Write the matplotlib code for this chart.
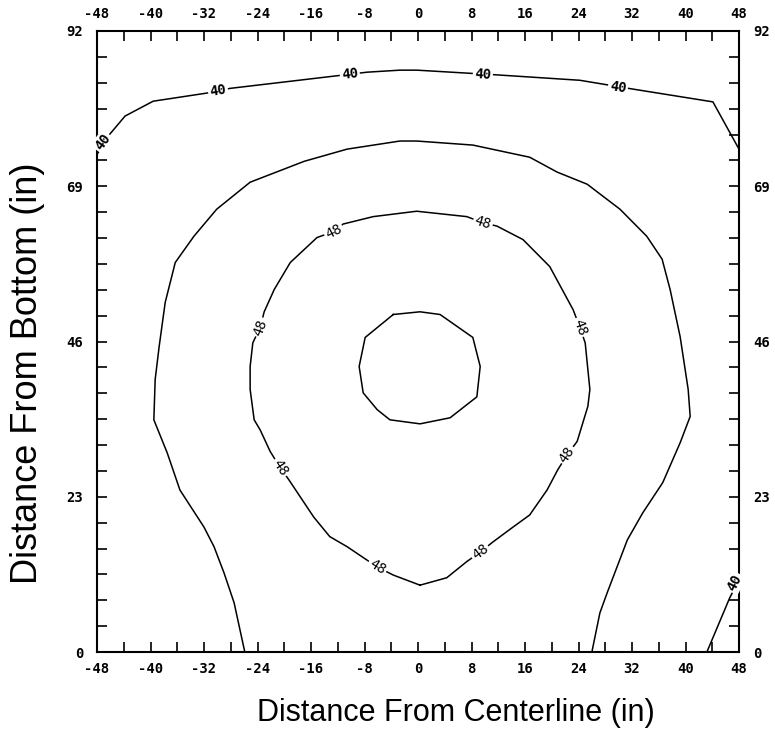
import numpy as np
import matplotlib.pyplot as plt
from matplotlib.ticker import MultipleLocator, FuncFormatter

# ── Contour traces (x = distance from centerline, y = distance from bottom, in) ──
c40_top_x = [-48.0, -46.1, -43.8, -39.6, -31.6, -28.1, -12.7, -7.6, -2.7, -0.2,
             11.8, 24.2, 32.1, 44.1, 48.0]
c40_top_y = [73.7, 76.7, 79.4, 81.6, 82.8, 83.5, 85.3, 85.9, 86.2, 86.2,
             85.5, 84.7, 83.4, 81.5, 74.5]

c44_x = [-25.9, -27.5, -29.0, -30.5, -32.0, -35.6, -37.5, -39.5, -39.3, -38.7,
         -37.8, -36.3, -33.5, -30.1, -25.1, -17.0, -10.6, -2.7, -0.2, 8.2,
         16.7, 20.8, 25.3, 30.2, 34.2, 36.5, 37.7, 39.2, 40.4, 40.7,
         39.2, 36.6, 33.6, 31.3, 28.3, 27.2, 26.0]
c44_y = [0.0, 7.3, 11.7, 15.6, 18.5, 24.0, 29.5, 34.4, 40.4, 45.3,
         51.8, 57.7, 61.6, 65.6, 69.6, 72.7, 74.5, 75.7, 75.7, 75.1,
         73.3, 71.1, 69.3, 65.6, 61.6, 58.2, 53.7, 46.7, 38.9, 34.9,
         31.0, 25.1, 20.6, 16.6, 8.8, 5.8, 0.0]

c48_x = [0.3, -3.7, -6.1, -10.6, -13.2, -15.6, -19.3, -20.6, -22.1, -23.6,
         -24.5, -25.1, -25.1, -24.7, -23.6, -23.0, -21.5, -19.1, -15.1, -12.6,
         -11.2, -6.7, -0.2, 7.3, 9.7, 11.8, 15.7, 19.7, 23.2, 24.2,
         25.0, 25.7, 25.4, 23.8, 22.3, 20.9, 19.3, 16.7, 14.2, 11.2,
         9.3, 7.3, 4.3, 0.3]
c48_y = [9.9, 11.4, 12.6, 15.6, 17.1, 20.0, 25.5, 27.3, 29.7, 32.9,
         34.4, 38.9, 42.3, 45.8, 48.1, 50.4, 53.7, 57.7, 61.4, 62.3,
         63.4, 64.5, 65.3, 64.5, 63.6, 63.1, 61.1, 57.1, 50.7, 48.1,
         45.8, 38.9, 36.4, 31.2, 29.2, 27.0, 24.0, 20.3, 18.5, 16.3,
         14.8, 13.4, 11.0, 9.9]

c52_x = [-3.7, 0.3, 3.3, 8.2, 9.3, 8.8, 4.8, 0.3, -4.2, -6.1, -8.2, -8.8, -7.9, -3.7]
c52_y = [50.0, 50.4, 50.0, 46.6, 42.3, 37.8, 34.7, 33.8, 34.4, 35.9, 38.4, 42.3, 46.6, 50.0]

c40_corner_x = [43.2, 46.6, 48.0]
c40_corner_y = [0.0, 8.0, 10.7]

# label anchor points on each traced contour
lab40_x = [-47.1, -29.9, -10.2, 9.7, 29.9]
lab40_y = [75.5, 83.1, 85.6, 85.6, 83.7]
lab48_x = [-12.6, 9.7, -23.6, 24.2, -20.6, 22.3, -6.1, 9.3]
lab48_y = [62.3, 63.6, 48.1, 48.1, 27.3, 29.2, 12.6, 14.8]
lab40c_x = [47.3]
lab40c_y = [10.3]

plt.rcParams['font.family'] = ['DejaVu Sans Mono', 'DejaVu Sans']
plt.rcParams['axes.unicode_minus'] = False

fig = plt.figure(figsize=(7.75, 7.34), dpi=100)
ax = fig.add_axes([97 / 775, 1 - 652 / 734, (739 - 97) / 775, (652 - 31) / 734])
ax.set_xlim(-48, 48)
ax.set_ylim(0, 92)

lines = [
    (c40_top_x, c40_top_y, '40', lab40_x, lab40_y, 'bold'),
    (c44_x, c44_y, None, [], [], 'normal'),
    (c48_x, c48_y, '48', lab48_x, lab48_y, 'normal'),
    (c52_x, c52_y, None, [], [], 'normal'),
    (c40_corner_x, c40_corner_y, '40', lab40c_x, lab40c_y, 'bold'),
]


def label_on_line(xs, ys, lx, ly, txt, weight):
    # rotate the label along the local direction of the line
    pts = ax.transData.transform(np.column_stack([xs, ys]))
    p = ax.transData.transform((lx, ly))
    i = int(np.argmin(np.hypot(pts[:, 0] - p[0], pts[:, 1] - p[1])))
    a = pts[max(i - 1, 0)]
    b = pts[min(i + 1, len(pts) - 1)]
    ang = np.degrees(np.arctan2(b[1] - a[1], b[0] - a[0]))
    if ang > 90:
        ang -= 180
    elif ang < -90:
        ang += 180
    ax.text(lx, ly, txt, rotation=ang, rotation_mode='anchor',
            ha='center', va='center', fontsize=10, fontweight=weight,
            bbox=dict(fc='white', ec='none', pad=1.2), zorder=4, clip_on=False)


for xs, ys, txt, lxs, lys, wt in lines:
    ax.plot(xs, ys, color='black', linewidth=1.1, zorder=2)
    for lx, ly in zip(lxs, lys):
        label_on_line(xs, ys, lx, ly, txt, wt)

# ── Axes, ticks ─────────────────────────────────────────────
ax.set_xticks(range(-48, 49, 8))
ax.xaxis.set_minor_locator(MultipleLocator(4))
ax.set_yticks([0, 23, 46, 69, 92])
ax.yaxis.set_minor_locator(MultipleLocator(23 / 6))
fmt = FuncFormatter(lambda v, p: f'{v:.0f}')
ax.xaxis.set_major_formatter(fmt)
ax.yaxis.set_major_formatter(fmt)

ax.tick_params(which='both', direction='in', top=True, right=True,
               labeltop=True, labelright=True, length=7, width=1.2,
               labelsize=10)
ax.tick_params(axis='x', which='major', pad=7)
ax.tick_params(axis='y', which='major', pad=10)
for lab in ax.get_xticklabels() + ax.get_yticklabels():
    lab.set_fontweight('bold')

for s in ax.spines.values():
    s.set_linewidth(1.5)

fig.text(456 / 775, 1 - 721 / 734, 'Distance From Centerline (in)',
         family='Liberation Sans', fontsize=22, ha='center', va='baseline')
fig.text(37 / 775, 1 - 373 / 734, 'Distance From Bottom (in)',
         family='Liberation Sans', fontsize=26, ha='center', va='baseline',
         rotation=90, rotation_mode='anchor')

plt.savefig('out.png', dpi=100)
